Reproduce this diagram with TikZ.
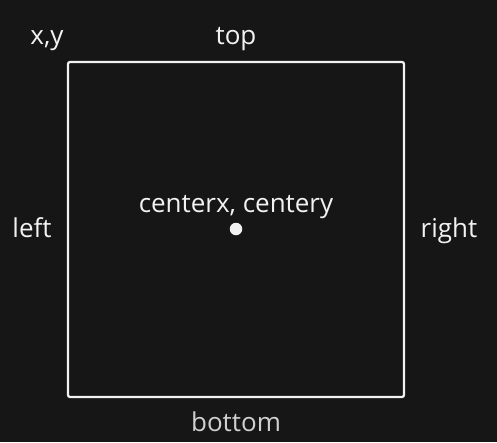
\documentclass[tikz,border=0pt]{standalone}
\usepackage{fontspec}
\setmainfont{Open Sans}
\usepackage{tikz}
\usetikzlibrary{positioning}
\definecolor{bgdark}{HTML}{161616}
\definecolor{fgwhite}{HTML}{F2F2F2}
\definecolor{fggrey}{HTML}{D0D0D0}
\tikzset{label/.style={text=fgwhite, font=\fontsize{26}{30}\selectfont, inner sep=0pt, anchor=base},
       frame/.style={draw=fgwhite, line width=2.2pt, rounded corners=2pt},
       centre/.style={circle, fill=fgwhite, draw=none, minimum size=12.5pt, inner sep=0pt}}
\begin{document}
\begin{tikzpicture}[x=1pt, y=-1pt]
\fill[bgdark] (0,0) rectangle (497,442);
\useasboundingbox (0,0) rectangle (497,442);
\coordinate (nw) at (68,62);
\coordinate (se) at (404,397);
\draw [frame] (nw) rectangle (se);
\node [centre] (mid) at (236,229) {};
\node [label] (midtext) at (236,212) {centerx, centery};
\node [label] (xy) at (47,44) {x,y};
\node [label] (top) at (236,44) {top};
\node [label] (left) at (32,237) {left};
\node [label] (right) at (449,237) {right};
\node [label, text=fggrey] (bottom) at (236,431) {bottom};
\end{tikzpicture}
\end{document}
